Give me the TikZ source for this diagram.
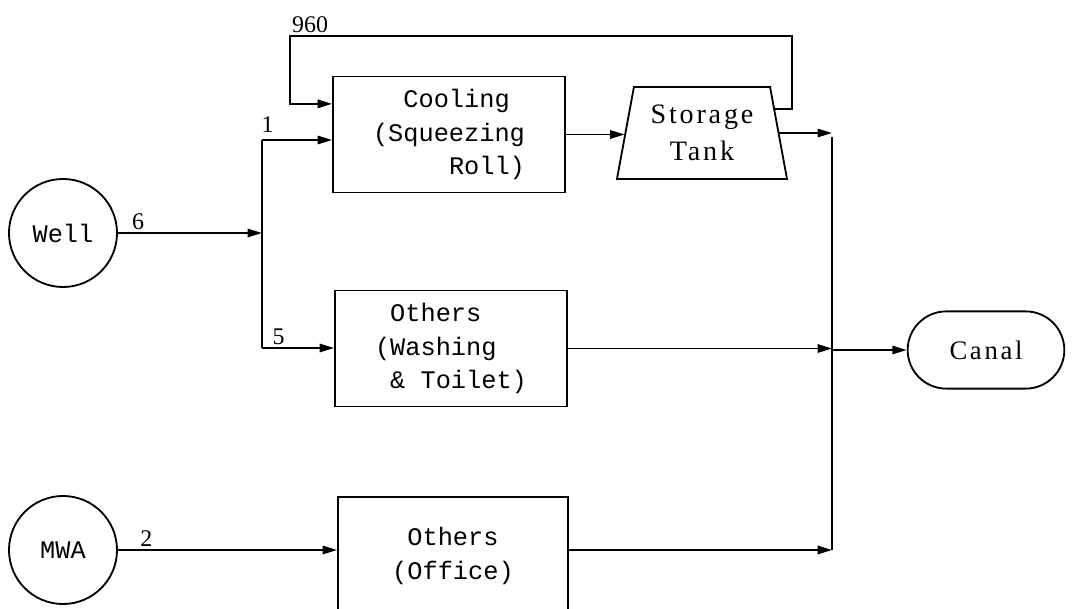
\documentclass[tikz,border=0pt]{standalone}
\usepackage{fontspec}
\setmainfont{Liberation Serif}
\setmonofont{Liberation Mono}
\newfontfamily\tankfont[LetterSpace=10]{Liberation Serif}
\usetikzlibrary{arrows.meta, calc, shapes.geometric, shapes.misc}

\begin{document}
\begin{tikzpicture}[
  x=0.025cm, y=-0.025cm,
  proc/.style={draw, line width=1.3pt, minimum width=5.8cm, minimum height=2.9cm,
               inner sep=0pt, font=\ttfamily\fontsize{18}{24}\selectfont},
  src/.style={draw, circle, line width=1.3pt, minimum size=2.7cm,
              font=\ttfamily\fontsize{18}{24}\selectfont},
  tanque/.style={draw, trapezium, trapezium left angle=73, trapezium right angle=73,
                 trapezium stretches body, line width=1.3pt, minimum width=4.25cm,
                 minimum height=2.3cm, inner sep=0pt, align=center,
                 font=\tankfont\fontsize{20}{26}\selectfont},
  sink/.style={draw, rounded rectangle, line width=1.3pt, minimum width=4.15cm,
               minimum height=1.93cm, font=\tankfont\fontsize{19}{24}\selectfont},
  num/.style={font=\fontsize{17}{19}\selectfont, inner sep=2pt},
  duto/.style={line width=1.3pt},
  fluxo/.style={duto, -{Triangle[length=3.6mm, width=2.1mm]}}
]
\useasboundingbox (0,0) rectangle (1074,609);
\clip (0,0) rectangle (1074,609);

\node[src] (well) at (63,233) {Well};
\node[src] (mwa)  at (63,550) {MWA};

\node[proc, align=left] (cool) at (449,134.5)
  {\hphantom{xx}Cooling\\(Squeezing\\\hphantom{xxxxx}Roll)};
\node[proc, align=left] (wash) at (451,348.5)
  {\hphantom{x}Others\\(Washing\\\hphantom{x}\& Toilet)};
\node[proc, align=center, minimum width=5.75cm, minimum height=2.95cm] (office) at (453,556)
  {Others\\(Office)};

\node[tanque] (tank) at (702,133) {Storage\\Tank};
\node[sink] (canal) at (986,350) {Canal};

\coordinate (stop) at (262,140);
\coordinate (sbot) at (262,348);
\coordinate (ctop) at (832,137);
\coordinate (cbot) at (832,550);
\coordinate (rt) at (792,36);
\coordinate (lt) at (290,36);

\draw[fluxo] (well.east) -- node[num, above, pos=0.14] {6} (well.east -| stop);
\draw[duto] (stop) -- (sbot);
\draw[fluxo] (stop) -- node[num, above, pos=0.08, yshift=3pt] {1} (stop -| cool.west);
\draw[fluxo] (sbot) -- node[num, above, pos=0.23] {5} (sbot -| wash.west);
\draw[fluxo] (mwa.east) -- node[num, above, pos=0.13] {2} (mwa.east -| office.west);

\draw[fluxo] (cool.east) -- (cool.east -| tank.west);
\draw[fluxo] ($(tank.top right corner)!0.24!(tank.bottom right corner)$) -| (rt)
  -- node[num, above, pos=0.96] {960} (lt)
  |- ($(cool.north west)!0.24!(cool.south west)$);

\draw[fluxo] (tank.east) -- (tank.east -| ctop);
\draw[fluxo] (wash.east) -- (wash.east -| ctop);
\draw[fluxo] (mwa.east -| office.east) -- (mwa.east -| cbot);
\draw[duto] (ctop) -- (cbot);
\draw[fluxo] (canal.west -| ctop) -- (canal.west);

\end{tikzpicture}
\end{document}
